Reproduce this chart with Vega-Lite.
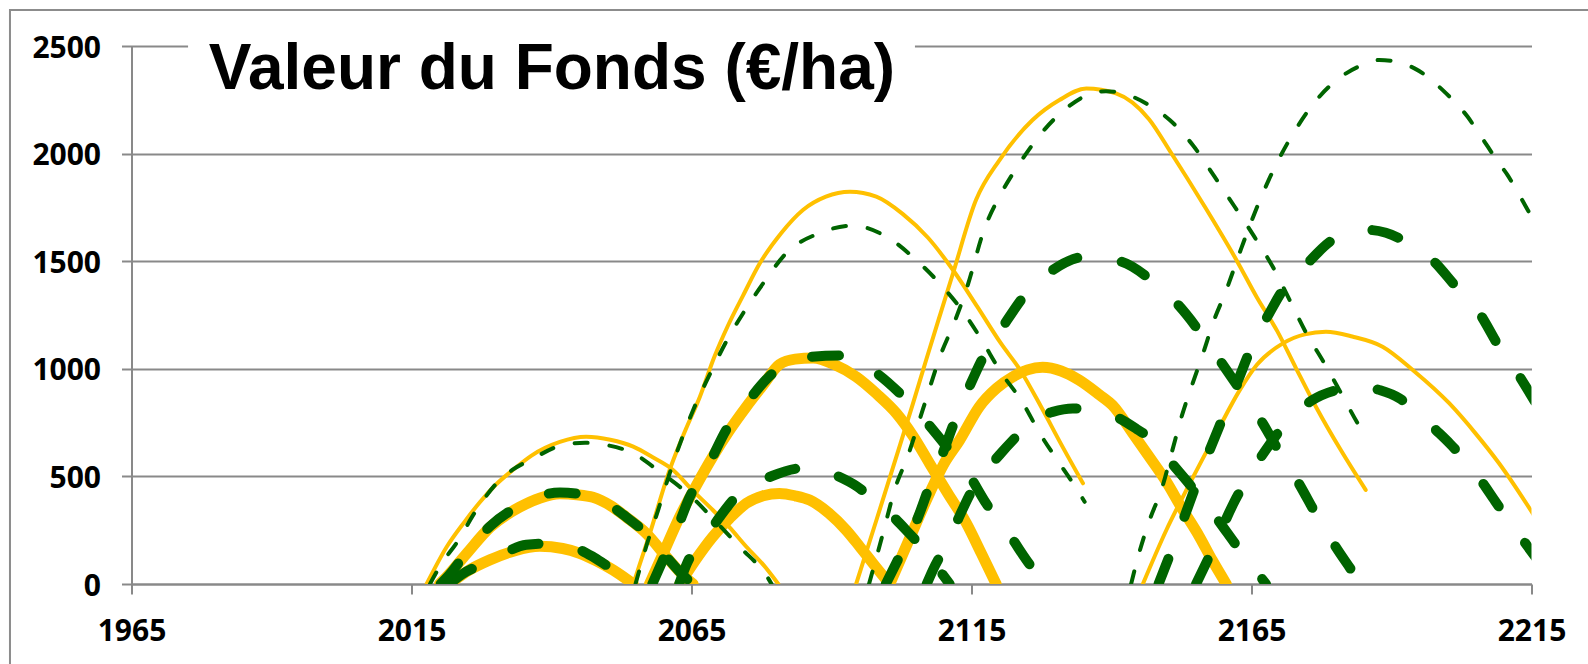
{
  "$schema": "https://vega.github.io/schema/vega-lite/v6.json",
  "width": 1400,
  "height": 538,
  "autosize": {"type": "none"},
  "padding": {"left": 131.5, "top": 46, "right": 56.5, "bottom": 80},
  "background": "white",
  "config": {
    "view": {"stroke": null},
    "axisX": {"grid": false, "domain": true, "domainColor": "#898989", "domainWidth": 2, "ticks": true, "tickColor": "#898989", "tickWidth": 2, "tickSize": 10, "labelFont": "Open Sans", "labelFontSize": 30, "labelFontWeight": "bold", "labelColor": "#000000", "labelPadding": 22, "labelFlush": false, "labelOverlap": false, "labelBound": false, "title": null},
    "axisY": {"grid": true, "gridColor": "#898989", "gridWidth": 2, "domain": true, "domainColor": "#898989", "domainWidth": 2, "ticks": true, "tickColor": "#898989", "tickWidth": 2, "tickSize": 10, "labelFont": "Open Sans", "labelFontSize": 30, "labelFontWeight": "bold", "labelColor": "#000000", "labelPadding": 21, "labelOffset": 2, "labelFlush": false, "labelOverlap": false, "labelBound": false, "title": null}
  },
  "datasets": {
    "A": [
      {"s":"A1","t":2017.7,"v":0},{"s":"A1","t":2021.3,"v":173},{"s":"A1","t":2024.5,"v":290},{"s":"A1","t":2027.2,"v":380},{"s":"A1","t":2030,"v":460},{"s":"A1","t":2033.1,"v":530},{"s":"A1","t":2036.5,"v":598},{"s":"A1","t":2041.5,"v":660},{"s":"A1","t":2046.2,"v":684},{"s":"A1","t":2050.5,"v":670},{"s":"A1","t":2054.6,"v":638},{"s":"A1","t":2058,"v":590},{"s":"A1","t":2061.7,"v":530},{"s":"A1","t":2065,"v":440},{"s":"A1","t":2068.8,"v":344},{"s":"A1","t":2071.8,"v":263},{"s":"A1","t":2074.8,"v":173},{"s":"A1","t":2077.8,"v":90},{"s":"A1","t":2080.5,"v":0},
      {"s":"A2","t":2054.6,"v":0},{"s":"A2","t":2057.5,"v":230},{"s":"A2","t":2061.1,"v":530},{"s":"A2","t":2064,"v":720},{"s":"A2","t":2066.5,"v":870},{"s":"A2","t":2069,"v":1050},{"s":"A2","t":2071.5,"v":1200},{"s":"A2","t":2074.2,"v":1340},{"s":"A2","t":2077.2,"v":1490},{"s":"A2","t":2081,"v":1630},{"s":"A2","t":2084.9,"v":1738},{"s":"A2","t":2089,"v":1800},{"s":"A2","t":2093.3,"v":1823},{"s":"A2","t":2098,"v":1800},{"s":"A2","t":2102.7,"v":1720},{"s":"A2","t":2107.2,"v":1610},{"s":"A2","t":2111.7,"v":1459},{"s":"A2","t":2116,"v":1290},{"s":"A2","t":2120.2,"v":1120},{"s":"A2","t":2123.8,"v":990},{"s":"A2","t":2127.5,"v":820},{"s":"A2","t":2131,"v":650},{"s":"A2","t":2134.9,"v":468},
      {"s":"A3","t":2094.4,"v":0},{"s":"A3","t":2098,"v":295},{"s":"A3","t":2101.5,"v":585},{"s":"A3","t":2104.5,"v":835},{"s":"A3","t":2106.9,"v":1041},{"s":"A3","t":2109.5,"v":1260},{"s":"A3","t":2111.7,"v":1444},{"s":"A3","t":2115.8,"v":1784},{"s":"A3","t":2120,"v":1970},{"s":"A3","t":2125.9,"v":2156},{"s":"A3","t":2130.7,"v":2249},{"s":"A3","t":2135.5,"v":2303},{"s":"A3","t":2140.8,"v":2280},{"s":"A3","t":2146.7,"v":2160},{"s":"A3","t":2150.6,"v":2005},{"s":"A3","t":2156.5,"v":1760},{"s":"A3","t":2162.3,"v":1506},{"s":"A3","t":2166,"v":1330},{"s":"A3","t":2169.6,"v":1175},{"s":"A3","t":2173,"v":1000},{"s":"A3","t":2176.5,"v":824},{"s":"A3","t":2181,"v":620},{"s":"A3","t":2185.4,"v":437},
      {"s":"A4","t":2145.6,"v":0},{"s":"A4","t":2149.8,"v":251},{"s":"A4","t":2154,"v":468},{"s":"A4","t":2158.7,"v":700},{"s":"A4","t":2162.9,"v":901},{"s":"A4","t":2166,"v":1020},{"s":"A4","t":2170.6,"v":1118},{"s":"A4","t":2174.5,"v":1160},{"s":"A4","t":2178.3,"v":1172},{"s":"A4","t":2183,"v":1150},{"s":"A4","t":2188.4,"v":1103},{"s":"A4","t":2194,"v":990},{"s":"A4","t":2200.3,"v":840},{"s":"A4","t":2205,"v":700},{"s":"A4","t":2209.2,"v":561},{"s":"A4","t":2215.2,"v":329},{"s":"A4","t":2217,"v":255}
    ],
    "B": [
      {"s":"B1","t":2018.3,"v":0},{"s":"B1","t":2020.5,"v":100},{"s":"B1","t":2023,"v":189},{"s":"B1","t":2026.5,"v":340},{"s":"B1","t":2030.2,"v":468},{"s":"B1","t":2033,"v":530},{"s":"B1","t":2036.2,"v":576},{"s":"B1","t":2042.1,"v":646},{"s":"B1","t":2046,"v":656},{"s":"B1","t":2050,"v":645},{"s":"B1","t":2054.6,"v":607},{"s":"B1","t":2059.3,"v":522},{"s":"B1","t":2065.3,"v":398},{"s":"B1","t":2068.8,"v":305},{"s":"B1","t":2073.6,"v":173},{"s":"B1","t":2078.7,"v":26},{"s":"B1","t":2079.3,"v":0},
      {"s":"B2","t":2055,"v":0},{"s":"B2","t":2056.9,"v":173},{"s":"B2","t":2059,"v":340},{"s":"B2","t":2061.1,"v":514},{"s":"B2","t":2063.2,"v":670},{"s":"B2","t":2065.3,"v":809},{"s":"B2","t":2068,"v":960},{"s":"B2","t":2071.2,"v":1126},{"s":"B2","t":2074.5,"v":1270},{"s":"B2","t":2077.8,"v":1397},{"s":"B2","t":2081.9,"v":1537},{"s":"B2","t":2087.8,"v":1630},{"s":"B2","t":2093.8,"v":1665},{"s":"B2","t":2099.8,"v":1614},{"s":"B2","t":2105.1,"v":1506},{"s":"B2","t":2109.3,"v":1397},{"s":"B2","t":2113.5,"v":1265},{"s":"B2","t":2116.8,"v":1135},{"s":"B2","t":2120,"v":994},{"s":"B2","t":2124.2,"v":840},{"s":"B2","t":2127.2,"v":700},{"s":"B2","t":2130.7,"v":561},{"s":"B2","t":2134.3,"v":421},{"s":"B2","t":2135.2,"v":382},
      {"s":"B3","t":2096.7,"v":0},{"s":"B3","t":2099.2,"v":236},{"s":"B3","t":2101.3,"v":440},{"s":"B3","t":2103.7,"v":600},{"s":"B3","t":2106.3,"v":810},{"s":"B3","t":2109.6,"v":1072},{"s":"B3","t":2112,"v":1220},{"s":"B3","t":2114.1,"v":1370},{"s":"B3","t":2117.3,"v":1650},{"s":"B3","t":2120.3,"v":1815},{"s":"B3","t":2123.6,"v":1955},{"s":"B3","t":2127.2,"v":2086},{"s":"B3","t":2131.9,"v":2210},{"s":"B3","t":2135.5,"v":2270},{"s":"B3","t":2139,"v":2290},{"s":"B3","t":2143.2,"v":2270},{"s":"B3","t":2147,"v":2220},{"s":"B3","t":2150.4,"v":2156},{"s":"B3","t":2154.5,"v":2040},{"s":"B3","t":2158.4,"v":1893},{"s":"B3","t":2162,"v":1753},{"s":"B3","t":2165.5,"v":1614},{"s":"B3","t":2168.8,"v":1474},{"s":"B3","t":2171.8,"v":1320},{"s":"B3","t":2174.7,"v":1170},{"s":"B3","t":2178,"v":1026},{"s":"B3","t":2181,"v":886},{"s":"B3","t":2184.3,"v":731},{"s":"B3","t":2184.9,"v":705},
      {"s":"B4","t":2143.5,"v":0},{"s":"B4","t":2145,"v":150},{"s":"B4","t":2146.8,"v":297},{"s":"B4","t":2149,"v":445},{"s":"B4","t":2150.8,"v":615},{"s":"B4","t":2152.6,"v":785},{"s":"B4","t":2154.5,"v":933},{"s":"B4","t":2156.4,"v":1075},{"s":"B4","t":2158.1,"v":1211},{"s":"B4","t":2160.5,"v":1366},{"s":"B4","t":2162.9,"v":1540},{"s":"B4","t":2165.2,"v":1700},{"s":"B4","t":2167.6,"v":1850},{"s":"B4","t":2170,"v":1980},{"s":"B4","t":2173.2,"v":2125},{"s":"B4","t":2177.1,"v":2264},{"s":"B4","t":2181.9,"v":2373},{"s":"B4","t":2184.8,"v":2412},{"s":"B4","t":2187.8,"v":2435},{"s":"B4","t":2190.8,"v":2427},{"s":"B4","t":2194.1,"v":2396},{"s":"B4","t":2196.8,"v":2350},{"s":"B4","t":2199.1,"v":2296},{"s":"B4","t":2201.5,"v":2234},{"s":"B4","t":2203.6,"v":2171},{"s":"B4","t":2205.4,"v":2102},{"s":"B4","t":2207.2,"v":2032},{"s":"B4","t":2209,"v":1962},{"s":"B4","t":2210.7,"v":1901},{"s":"B4","t":2212.5,"v":1823},{"s":"B4","t":2214,"v":1753},{"s":"B4","t":2215.5,"v":1684},{"s":"B4","t":2217,"v":1615}
    ],
    "C": [
      {"s":"C1","t":2021.8,"v":0},{"s":"C1","t":2025,"v":60},{"s":"C1","t":2029,"v":112},{"s":"C1","t":2033.5,"v":155},{"s":"C1","t":2037.9,"v":175},{"s":"C1","t":2042,"v":165},{"s":"C1","t":2045,"v":143},{"s":"C1","t":2048,"v":108},{"s":"C1","t":2051,"v":65},{"s":"C1","t":2054.6,"v":0},
      {"s":"C2","t":2020,"v":0},{"s":"C2","t":2021.2,"v":31},{"s":"C2","t":2024.8,"v":140},{"s":"C2","t":2029,"v":263},{"s":"C2","t":2034.3,"v":357},{"s":"C2","t":2038,"v":400},{"s":"C2","t":2041.5,"v":419},{"s":"C2","t":2044.5,"v":415},{"s":"C2","t":2047.4,"v":403},{"s":"C2","t":2050.5,"v":365},{"s":"C2","t":2053.4,"v":310},{"s":"C2","t":2057,"v":233},{"s":"C2","t":2060.6,"v":124},{"s":"C2","t":2063.5,"v":40},{"s":"C2","t":2065.3,"v":0},
      {"s":"C3","t":2057.5,"v":0},{"s":"C3","t":2060,"v":145},{"s":"C3","t":2062.9,"v":313},{"s":"C3","t":2065.8,"v":455},{"s":"C3","t":2068.8,"v":592},{"s":"C3","t":2071.8,"v":715},{"s":"C3","t":2074.8,"v":824},{"s":"C3","t":2077.8,"v":925},{"s":"C3","t":2080.7,"v":1020},{"s":"C3","t":2083.5,"v":1045},{"s":"C3","t":2086.7,"v":1050},{"s":"C3","t":2090.5,"v":1020},{"s":"C3","t":2094.4,"v":963},{"s":"C3","t":2098,"v":885},{"s":"C3","t":2101.6,"v":793},{"s":"C3","t":2104.5,"v":690},{"s":"C3","t":2107.5,"v":561},{"s":"C3","t":2110.8,"v":420},{"s":"C3","t":2114.1,"v":282},{"s":"C3","t":2116.8,"v":140},{"s":"C3","t":2119.4,"v":0},
      {"s":"C4","t":2062.9,"v":0},{"s":"C4","t":2065.8,"v":115},{"s":"C4","t":2068.8,"v":220},{"s":"C4","t":2071.8,"v":305},{"s":"C4","t":2074.8,"v":375},{"s":"C4","t":2077.8,"v":410},{"s":"C4","t":2080.7,"v":421},{"s":"C4","t":2083.5,"v":410},{"s":"C4","t":2086.1,"v":390},{"s":"C4","t":2089.5,"v":330},{"s":"C4","t":2092.6,"v":251},{"s":"C4","t":2095,"v":175},{"s":"C4","t":2097.4,"v":96},{"s":"C4","t":2100.4,"v":0},
      {"s":"C5","t":2100.4,"v":0},{"s":"C5","t":2104,"v":215},{"s":"C5","t":2107.5,"v":421},{"s":"C5","t":2110,"v":555},{"s":"C5","t":2112.9,"v":669},{"s":"C5","t":2116.4,"v":824},{"s":"C5","t":2119.5,"v":910},{"s":"C5","t":2122.4,"v":963},{"s":"C5","t":2125,"v":995},{"s":"C5","t":2127.7,"v":1007},{"s":"C5","t":2131,"v":990},{"s":"C5","t":2134.2,"v":948},{"s":"C5","t":2137.8,"v":880},{"s":"C5","t":2140.2,"v":830},{"s":"C5","t":2143.8,"v":700},{"s":"C5","t":2146.5,"v":600},{"s":"C5","t":2149.8,"v":475},{"s":"C5","t":2152.5,"v":355},{"s":"C5","t":2155.7,"v":220},{"s":"C5","t":2158,"v":110},{"s":"C5","t":2160.5,"v":0}
    ],
    "D": [
      {"s":"D1","t":2021.8,"v":0},{"s":"D1","t":2024,"v":45},{"s":"D1","t":2028.4,"v":100},{"s":"D1","t":2032,"v":150},{"s":"D1","t":2035.5,"v":182},{"s":"D1","t":2039.5,"v":188},{"s":"D1","t":2043.8,"v":172},{"s":"D1","t":2047.5,"v":125},{"s":"D1","t":2051,"v":65},{"s":"D1","t":2054.6,"v":0},
      {"s":"D2","t":2020.2,"v":0},{"s":"D2","t":2021.5,"v":35},{"s":"D2","t":2024.8,"v":145},{"s":"D2","t":2029,"v":268},{"s":"D2","t":2034.3,"v":365},{"s":"D2","t":2038,"v":410},{"s":"D2","t":2041.5,"v":425},{"s":"D2","t":2044.5,"v":420},{"s":"D2","t":2047.4,"v":405},{"s":"D2","t":2050.5,"v":365},{"s":"D2","t":2053.4,"v":310},{"s":"D2","t":2057,"v":233},{"s":"D2","t":2060.6,"v":124},{"s":"D2","t":2063.5,"v":40},{"s":"D2","t":2065.3,"v":0},
      {"s":"D3","t":2058,"v":0},{"s":"D3","t":2059.9,"v":112},{"s":"D3","t":2062.4,"v":255},{"s":"D3","t":2064.6,"v":400},{"s":"D3","t":2068.2,"v":561},{"s":"D3","t":2071.2,"v":716},{"s":"D3","t":2074.8,"v":840},{"s":"D3","t":2079.5,"v":979},{"s":"D3","t":2082.5,"v":1030},{"s":"D3","t":2086,"v":1055},{"s":"D3","t":2091.5,"v":1062},{"s":"D3","t":2096.8,"v":1002},{"s":"D3","t":2102.2,"v":886},{"s":"D3","t":2106.3,"v":772},{"s":"D3","t":2110.5,"v":640},{"s":"D3","t":2114.7,"v":500},{"s":"D3","t":2117.6,"v":375},{"s":"D3","t":2121.8,"v":228},{"s":"D3","t":2125.4,"v":90},{"s":"D3","t":2128.3,"v":0},
      {"s":"D4","t":2062.8,"v":0},{"s":"D4","t":2064.1,"v":90},{"s":"D4","t":2067.8,"v":228},{"s":"D4","t":2070,"v":310},{"s":"D4","t":2072.7,"v":398},{"s":"D4","t":2076,"v":460},{"s":"D4","t":2079.5,"v":503},{"s":"D4","t":2083.5,"v":535},{"s":"D4","t":2086,"v":540},{"s":"D4","t":2088.5,"v":530},{"s":"D4","t":2091,"v":503},{"s":"D4","t":2094.4,"v":456},{"s":"D4","t":2097.8,"v":385},{"s":"D4","t":2101,"v":313},{"s":"D4","t":2103.7,"v":240},{"s":"D4","t":2106.3,"v":166},{"s":"D4","t":2108.8,"v":80},{"s":"D4","t":2111.1,"v":0},
      {"s":"D5","t":2107,"v":0},{"s":"D5","t":2108.1,"v":65},{"s":"D5","t":2110,"v":160},{"s":"D5","t":2111.7,"v":251},{"s":"D5","t":2115.2,"v":440},{"s":"D5","t":2120,"v":600},{"s":"D5","t":2123,"v":685},{"s":"D5","t":2126,"v":762},{"s":"D5","t":2129.5,"v":800},{"s":"D5","t":2133.1,"v":816},{"s":"D5","t":2137,"v":805},{"s":"D5","t":2140.8,"v":777},{"s":"D5","t":2144.5,"v":720},{"s":"D5","t":2148,"v":654},{"s":"D5","t":2150.5,"v":570},{"s":"D5","t":2153.3,"v":483},{"s":"D5","t":2158.1,"v":329},{"s":"D5","t":2162.9,"v":158},{"s":"D5","t":2167.6,"v":0},
      {"s":"D6","t":2099.7,"v":0},{"s":"D6","t":2102.7,"v":158},{"s":"D6","t":2105.3,"v":300},{"s":"D6","t":2107.5,"v":455},{"s":"D6","t":2109.9,"v":610},{"s":"D6","t":2112.2,"v":770},{"s":"D6","t":2114.5,"v":910},{"s":"D6","t":2117,"v":1050},{"s":"D6","t":2120.6,"v":1196},{"s":"D6","t":2124.8,"v":1351},{"s":"D6","t":2129.5,"v":1459},{"s":"D6","t":2135.5,"v":1521},{"s":"D6","t":2141.7,"v":1498},{"s":"D6","t":2147.4,"v":1405},{"s":"D6","t":2151.8,"v":1300},{"s":"D6","t":2156.5,"v":1145},{"s":"D6","t":2159.3,"v":1041},{"s":"D6","t":2163.4,"v":886},{"s":"D6","t":2167,"v":747},{"s":"D6","t":2170,"v":612},{"s":"D6","t":2173.5,"v":465},{"s":"D6","t":2176.5,"v":325},{"s":"D6","t":2180.1,"v":170},{"s":"D6","t":2183.7,"v":30},{"s":"D6","t":2184.4,"v":0},
      {"s":"D7","t":2155.1,"v":0},{"s":"D7","t":2158.4,"v":180},{"s":"D7","t":2161.7,"v":370},{"s":"D7","t":2165.2,"v":530},{"s":"D7","t":2168,"v":640},{"s":"D7","t":2170.6,"v":731},{"s":"D7","t":2175.9,"v":855},{"s":"D7","t":2180,"v":900},{"s":"D7","t":2184.3,"v":917},{"s":"D7","t":2188,"v":900},{"s":"D7","t":2191.4,"v":863},{"s":"D7","t":2194.5,"v":800},{"s":"D7","t":2197.9,"v":716},{"s":"D7","t":2200.5,"v":650},{"s":"D7","t":2203.3,"v":570},{"s":"D7","t":2206,"v":480},{"s":"D7","t":2208.5,"v":385},{"s":"D7","t":2212.2,"v":250},{"s":"D7","t":2216,"v":115},
      {"s":"D8","t":2148.4,"v":0},{"s":"D8","t":2150.3,"v":127},{"s":"D8","t":2152.7,"v":290},{"s":"D8","t":2155.1,"v":460},{"s":"D8","t":2157.5,"v":620},{"s":"D8","t":2160,"v":780},{"s":"D8","t":2162.5,"v":940},{"s":"D8","t":2165.5,"v":1130},{"s":"D8","t":2168,"v":1250},{"s":"D8","t":2170.6,"v":1366},{"s":"D8","t":2174.7,"v":1482},{"s":"D8","t":2179.5,"v":1599},{"s":"D8","t":2183,"v":1635},{"s":"D8","t":2186,"v":1645},{"s":"D8","t":2189,"v":1632},{"s":"D8","t":2192,"v":1599},{"s":"D8","t":2197.3,"v":1506},{"s":"D8","t":2201.5,"v":1382},{"s":"D8","t":2205.7,"v":1258},{"s":"D8","t":2209.2,"v":1103},{"s":"D8","t":2212.5,"v":979},{"s":"D8","t":2216,"v":830}
    ]
  },
  "layer": [
    {
      "data": {"values": [{}]},
      "mark": {"type": "rect", "fill": "white", "fillOpacity": 0, "stroke": "#8c8c8c", "strokeWidth": 2},
      "encoding": {
        "x": {"datum": 1943.3, "type": "quantitative", "title": null, "scale": {"domain": [1965, 2215], "nice": false, "zero": false}, "axis": {"values": [1965, 2015, 2065, 2115, 2165, 2215], "format": "d"}},
        "x2": {"datum": 2245},
        "y": {"datum": 2667, "type": "quantitative", "title": null, "scale": {"domain": [0, 2500], "nice": false, "zero": false}, "axis": {"values": [0, 500, 1000, 1500, 2000, 2500], "format": "d"}},
        "y2": {"datum": -600}
      }
    },
    {
      "data": {"values": [{}]},
      "mark": {"type": "rect", "color": "white"},
      "encoding": {
        "x": {"datum": 1975.1, "type": "quantitative", "title": null, "axis": {"values": [1965, 2015, 2065, 2115, 2165, 2215], "format": "d"}},
        "x2": {"datum": 2104.9},
        "y": {"datum": 2445, "type": "quantitative", "title": null, "axis": {"values": [0, 500, 1000, 1500, 2000, 2500], "format": "d"}},
        "y2": {"datum": 2590}
      }
    },
    {
      "data": {"name": "C"},
      "mark": {"type": "line", "color": "#FFC000", "strokeWidth": 11, "strokeCap": "round", "strokeJoin": "round", "interpolate": "monotone", "clip": true},
      "encoding": {
        "x": {"field": "t", "type": "quantitative", "title": null, "axis": {"values": [1965, 2015, 2065, 2115, 2165, 2215], "format": "d"}},
        "y": {"field": "v", "type": "quantitative", "title": null, "axis": {"values": [0, 500, 1000, 1500, 2000, 2500], "format": "d"}},
        "detail": {"field": "s"}
      }
    },
    {
      "data": {"name": "A"},
      "mark": {"type": "line", "color": "#FFC000", "strokeWidth": 4, "strokeCap": "round", "strokeJoin": "round", "interpolate": "monotone", "clip": true},
      "encoding": {
        "x": {"field": "t", "type": "quantitative", "title": null, "axis": {"values": [1965, 2015, 2065, 2115, 2165, 2215], "format": "d"}},
        "y": {"field": "v", "type": "quantitative", "title": null, "axis": {"values": [0, 500, 1000, 1500, 2000, 2500], "format": "d"}},
        "detail": {"field": "s"}
      }
    },
    {
      "data": {"name": "B"},
      "mark": {"type": "line", "color": "#006400", "strokeWidth": 4, "strokeCap": "round", "strokeJoin": "round", "strokeDash": [13, 22], "interpolate": "monotone", "clip": true},
      "encoding": {
        "x": {"field": "t", "type": "quantitative", "title": null, "axis": {"values": [1965, 2015, 2065, 2115, 2165, 2215], "format": "d"}},
        "y": {"field": "v", "type": "quantitative", "title": null, "axis": {"values": [0, 500, 1000, 1500, 2000, 2500], "format": "d"}},
        "detail": {"field": "s"}
      }
    },
    {
      "data": {"name": "D"},
      "mark": {"type": "line", "color": "#006400", "strokeWidth": 10, "strokeCap": "round", "strokeJoin": "round", "strokeDash": [27, 45], "interpolate": "monotone", "clip": true},
      "encoding": {
        "x": {"field": "t", "type": "quantitative", "title": null, "axis": {"values": [1965, 2015, 2065, 2115, 2165, 2215], "format": "d"}},
        "y": {"field": "v", "type": "quantitative", "title": null, "axis": {"values": [0, 500, 1000, 1500, 2000, 2500], "format": "d"}},
        "detail": {"field": "s"}
      }
    },
    {
      "data": {"values": [{}]},
      "mark": {"type": "text", "text": "Valeur du Fonds (€/ha)", "font": "Liberation Sans", "fontSize": 64, "fontWeight": "bold", "align": "left", "baseline": "alphabetic", "color": "#000000"},
      "encoding": {
        "x": {"datum": 1978.8, "type": "quantitative", "title": null, "axis": {"values": [1965, 2015, 2065, 2115, 2165, 2215], "format": "d"}},
        "y": {"datum": 2302.5, "type": "quantitative", "title": null, "axis": {"values": [0, 500, 1000, 1500, 2000, 2500], "format": "d"}}
      }
    }
  ]
}
